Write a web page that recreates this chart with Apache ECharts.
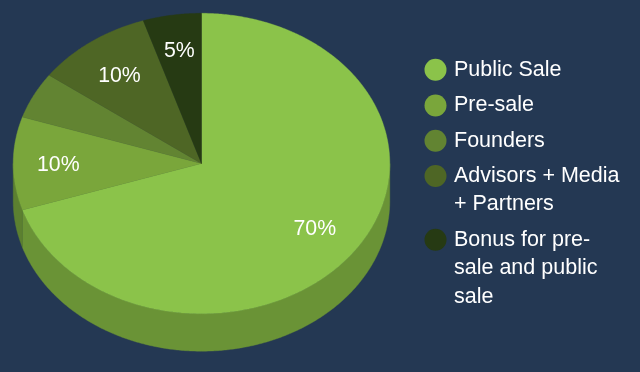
<!DOCTYPE html>
<html><head><meta charset="utf-8">
<style>html,body{margin:0;padding:0;background:#243853}#c{width:640px;height:372px}</style>
<script src="https://cdn.jsdelivr.net/npm/echarts@6/dist/echarts.min.js"></script>
</head><body><div id="c"></div>
<script>
const names = ['Public Sale','Pre-sale','Founders','Advisors + Media + Partners','Bonus for pre-sale and public sale'];
const legendLines = [['Public Sale'],['Pre-sale'],['Founders'],['Advisors + Media','+ Partners'],['Bonus for pre-','sale and public','sale']];
const values = [70,10,5,10,5];
const labels = ['70%','10%','','10%','5%'];
const topColors = ['#8bc34a','#7aa63b','#628432','#4e6625','#263a13'];
const wallColors = ['#6a9336','#5c8030','#4e6a28','#3e521e','#1e2e0f'];
const legendCentersY = [69.7,105.5,140.7,176,239.7];
const labelNudges = [[-1,-0.5],[-2,1.5],[0,0],[1,4],[0,-1]];

const CX=201.5, CY=163.5, RX=188.3, RY=150.2, DEPTH=37.5, FONT='"Liberation Sans", Arial, sans-serif';
const total = values.reduce((a,b)=>a+b,0);
const LH = 28.5;
const pt=(deg,f=1,dy=0)=>{const t=deg*Math.PI/180;return [CX+RX*f*Math.sin(t),CY-RY*f*Math.cos(t)+dy];};
function arc(a,b,dy=0){const n=Math.max(2,Math.ceil((b-a)*2)),p=[];for(let i=0;i<=n;i++)p.push(pt(a+(b-a)*i/n,1,dy));return p;}

const series = names.map((name,i)=>{
  const start = values.slice(0,i).reduce((a,b)=>a+b,0)/total*360;
  const end = start + values[i]/total*360;
  return {
    type:'custom', name, coordinateSystem:'none', silent:true,
    itemStyle:{color:topColors[i]}, data:[values[i]],
    renderItem(){
      const children=[];
      const wa=Math.max(start,90), wb=Math.min(end,270);
      if(wb>wa){
        const top=arc(wa,wb), bot=arc(wa,wb,DEPTH).reverse();
        children.push({type:'polygon',shape:{points:top.concat(bot)},style:{fill:wallColors[i],stroke:wallColors[i],lineWidth:0.4}});
      }
      children.push({type:'polygon',shape:{points:[[CX,CY]].concat(arc(start,end))},style:{fill:topColors[i],stroke:topColors[i],lineWidth:0.4}});
      if(labels[i]){
        const m=pt((start+end)/2,0.75);
        children.push({type:'text',x:m[0]+labelNudges[i][0],y:m[1]+labelNudges[i][1],style:{text:labels[i],fill:'#fff',font:'21.3px '+FONT,align:'center',verticalAlign:'middle'}});
      }
      return {type:'group',children};
    }
  };
});
const legend = names.map((name,i)=>{
  const L=legendLines[i].length;
  return {
    left:424.5, top:legendCentersY[i]-(2*L-1)*LH/2, padding:0, orient:'vertical',
    itemWidth:22,itemHeight:22,icon:'circle',selectedMode:false,
    formatter:()=>'\n'.repeat(L-1)+legendLines[i].join('\n'),
    data:[{name,textStyle:{color:'#fff',fontFamily:FONT,fontSize:21.5,lineHeight:LH,padding:[0,0,0,2.5]}}]
  };
});
const chart=echarts.init(document.getElementById('c'),null,{renderer:'canvas'});
chart.setOption({backgroundColor:'#243853',animation:false,tooltip:{show:false},legend,series});
</script></body></html>
